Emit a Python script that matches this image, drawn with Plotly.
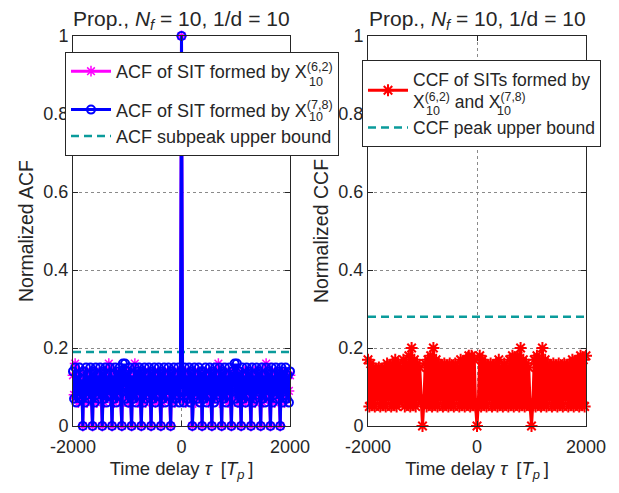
import plotly.graph_objects as go

# ---------------- data ----------------
# ACF lags (units of Tp), step 20
acf_lags = list(range(-2000, 2001, 20))

acf_blue = [
    0.14, 0.07, 0.15, 0.06, 0.13, 0.08, 0.15, 0.07, 0.12, 0, 0.14, 0.06, 0.15, 0.08, 0.13, 0.07, 0.15, 0.09, 0, 0.14,
    0.06, 0.15, 0.08, 0.13, 0.07, 0.15, 0.10, 0, 0.14, 0.07, 0.15, 0.06, 0.13, 0.08, 0.15, 0.09, 0, 0.13, 0.07, 0.15,
    0.06, 0.14, 0.08, 0.15, 0.09, 0, 0.16, 0.10, 0.16, 0.07, 0.14, 0.06, 0.15, 0.09, 0, 0.13, 0.07, 0.15, 0.06, 0.14,
    0.08, 0.15, 0.09, 0, 0.14, 0.06, 0.15, 0.07, 0.13, 0.08, 0.15, 0.10, 0, 0.14, 0.07, 0.15, 0.06, 0.13, 0.08, 0.15,
    0.09, 0, 0.14, 0.07, 0.15, 0.06, 0.13, 0.08, 0.15, 0.10, 0, 0.14, 0.06, 0.15, 0.07, 0.13, 0.08, 0.15, 0.06, 0.12,
    1.0, 0.12, 0.06, 0.15, 0.08, 0.13, 0.07, 0.15, 0.06, 0.14, 0, 0.10, 0.15, 0.08, 0.13, 0.07, 0.15, 0.06, 0.14, 0,
    0.14, 0.07, 0.15, 0.06, 0.13, 0.08, 0.15, 0.09, 0, 0.14, 0.06, 0.15, 0.07, 0.13, 0.08, 0.15, 0.10, 0, 0.14, 0.07,
    0.15, 0.06, 0.13, 0.08, 0.15, 0.09, 0, 0.14, 0.10, 0.16, 0.07, 0.16, 0.06, 0.14, 0.09, 0, 0.15, 0.07, 0.13, 0.06,
    0.15, 0.08, 0.14, 0.09, 0, 0.15, 0.06, 0.13, 0.07, 0.15, 0.08, 0.14, 0.10, 0, 0.15, 0.07, 0.13, 0.06, 0.15, 0.08,
    0.14, 0.09, 0, 0.15, 0.06, 0.13, 0.08, 0.15, 0.07, 0.14, 0.10, 0, 0.15, 0.06, 0.14, 0.08, 0.15, 0.07, 0.13, 0.06,
    0.14,
]

acf_magenta = [
    0.13, 0.08, 0.16, 0.07, 0.14, 0.06, 0.12, 0.08, 0.14, 0, 0.13, 0.07, 0.14, 0.06, 0.12, 0.09, 0.14, 0.07, 0, 0.13,
    0.08, 0.14, 0.06, 0.12, 0.09, 0.14, 0.07, 0, 0.13, 0.06, 0.14, 0.08, 0.12, 0.16, 0.07, 0.14, 0, 0.12, 0.06, 0.14,
    0.07, 0.13, 0.09, 0.14, 0.06, 0, 0.12, 0.08, 0.14, 0.07, 0.13, 0.06, 0.14, 0.09, 0, 0.12, 0.07, 0.16, 0.08, 0.13,
    0.06, 0.14, 0.08, 0, 0.13, 0.07, 0.14, 0.06, 0.12, 0.09, 0.14, 0.07, 0, 0.13, 0.08, 0.14, 0.06, 0.12, 0.07, 0.14,
    0.08, 0, 0.13, 0.06, 0.14, 0.09, 0.12, 0.07, 0.14, 0.08, 0, 0.13, 0.07, 0.14, 0.06, 0.12, 0.09, 0.14, 0.07, 0.13,
    1.0, 0.13, 0.07, 0.14, 0.06, 0.12, 0.09, 0.14, 0.07, 0.13, 0, 0.08, 0.14, 0.06, 0.12, 0.09, 0.14, 0.07, 0.13, 0,
    0.12, 0.08, 0.14, 0.07, 0.13, 0.06, 0.14, 0.08, 0, 0.12, 0.07, 0.14, 0.09, 0.13, 0.16, 0.06, 0.14, 0, 0.13, 0.08,
    0.14, 0.07, 0.12, 0.06, 0.14, 0.08, 0, 0.13, 0.07, 0.14, 0.09, 0.12, 0.06, 0.14, 0.08, 0, 0.13, 0.07, 0.14, 0.06,
    0.12, 0.09, 0.14, 0.07, 0, 0.13, 0.08, 0.14, 0.06, 0.12, 0.07, 0.14, 0.09, 0, 0.13, 0.06, 0.14, 0.08, 0.16, 0.07,
    0.13, 0.08, 0, 0.14, 0.07, 0.12, 0.06, 0.14, 0.09, 0.13, 0.07, 0, 0.14, 0.08, 0.12, 0.06, 0.14, 0.07, 0.13, 0.09,
    0.13,
]

# CCF lags, step 25
ccf_lags = list(range(-2000, 2001, 25))
ccf_red = [
    0.17, 0.05, 0.16, 0.06, 0.15, 0.05, 0.14, 0.07, 0.15, 0.05, 0.14, 0.06, 0.15, 0.05, 0.16, 0.07, 0.15, 0.05, 0.16, 0.06,
    0.17, 0.05, 0.16, 0.06, 0.15, 0.07, 0.17, 0.05, 0.16, 0.06, 0.18, 0.05, 0.20, 0.06, 0.17, 0.05, 0.16, 0.07, 0.15, 0.06,
    0, 0.06, 0.16, 0.05, 0.17, 0.06, 0.18, 0.05, 0.20, 0.06, 0.17, 0.05, 0.16, 0.07, 0.15, 0.05, 0.16, 0.06, 0.15, 0.05,
    0.16, 0.06, 0.15, 0.05, 0.16, 0.07, 0.15, 0.05, 0.17, 0.06, 0.16, 0.05, 0.17, 0.06, 0.18, 0.05, 0.18, 0.06, 0.17, 0.05,
    0, 0.06, 0.18, 0.05, 0.17, 0.06, 0.16, 0.05, 0.15, 0.07, 0.16, 0.05, 0.15, 0.06, 0.16, 0.05, 0.17, 0.06, 0.15, 0.05,
    0.16, 0.06, 0.15, 0.05, 0.17, 0.06, 0.18, 0.05, 0.17, 0.06, 0.18, 0.05, 0.20, 0.06, 0.17, 0.05, 0.16, 0.06, 0.15, 0.05,
    0, 0.06, 0.17, 0.05, 0.18, 0.06, 0.17, 0.05, 0.20, 0.06, 0.17, 0.05, 0.16, 0.07, 0.15, 0.05, 0.16, 0.06, 0.15, 0.05,
    0.16, 0.06, 0.15, 0.05, 0.16, 0.07, 0.15, 0.05, 0.16, 0.06, 0.17, 0.05, 0.16, 0.06, 0.17, 0.05, 0.18, 0.06, 0.17, 0.05,
    0.18,
]

acf_bound = 0.19
ccf_bound = 0.28
x_range = [-2000, 2000]
x_tick_vals = [-2000, 0, 2000]
x_tick_text = ["-2000", "0", "2000"]
y_tick_vals = [0, 0.2, 0.4, 0.6, 0.8, 1]
y_tick_text = ["0", "0.2", "0.4", "0.6", "0.8", "1"]

name_m = "ACF of SIT formed by X<sup>(6,2)</sup>"
name_b = "ACF of SIT formed by X<sup>(7,8)</sup>"
name_ab = "ACF subpeak upper bound"
name_r = "CCF of SITs formed by<br>X<sup>(6,2)</sup> and X<sup>(7,8)</sup>"
name_cb = "CCF peak upper bound"
title_txt = "Prop., <i>N</i><sub><i>f</i></sub> = 10, 1/d = 10"
xlab = "Time delay <i>τ</i>\u2002[<i>T</i><sub><i>p</i></sub>\u2009]"

# ---------------- style ----------------
FONT = "Liberation Sans, Arial, sans-serif"
TXT = "#262626"
TEAL = "#0a9b9b"
W, H = 619, 493
ML, MR, MT, MB = 73, 33, 36, 67
PW, PH = W - ML - MR, H - MT - MB


def px2x(px):
    return (px - ML) / PW


def px2y(py):
    return (H - MB - py) / PH


fig = go.Figure()

# left panel
fig.add_trace(go.Scatter(x=x_range, y=[acf_bound, acf_bound], mode="lines",
                         line=dict(color=TEAL, width=2.5, dash="8px,5px"),
                         name=name_ab, legend="legend", legendrank=3, legendgroup="b",
                         xaxis="x", yaxis="y"))
fig.add_trace(go.Scatter(x=acf_lags, y=acf_magenta, mode="lines+markers",
                         line=dict(color="#FF00FF", width=3),
                         marker=dict(symbol="asterisk-open", size=9, color="#FF00FF",
                                     line=dict(color="#FF00FF", width=1.5)),
                         cliponaxis=False,
                         name=name_m, legend="legend", legendrank=1, legendgroup="a",
                         xaxis="x", yaxis="y"))
fig.add_trace(go.Scatter(x=acf_lags, y=acf_blue, mode="lines+markers",
                         line=dict(color="#0000FF", width=3),
                         marker=dict(symbol="circle-open", size=8, color="#0000FF",
                                     line=dict(color="#0000FF", width=2)),
                         cliponaxis=False,
                         name=name_b, legend="legend", legendrank=2, legendgroup="b",
                         xaxis="x", yaxis="y"))

# right panel
fig.add_trace(go.Scatter(x=ccf_lags, y=ccf_red, mode="lines+markers",
                         line=dict(color="#FF0000", width=3),
                         marker=dict(symbol="asterisk-open", size=10, color="#FF0000",
                                     line=dict(color="#FF0000", width=2)),
                         cliponaxis=False,
                         name=name_r, legend="legend2", legendrank=1,
                         xaxis="x2", yaxis="y2"))
fig.add_trace(go.Scatter(x=x_range, y=[ccf_bound, ccf_bound], mode="lines",
                         line=dict(color=TEAL, width=2.5, dash="8px,5px"),
                         name=name_cb, legend="legend2", legendrank=2,
                         xaxis="x2", yaxis="y2"))

axis_common = dict(showline=True, linecolor=TXT, linewidth=1, mirror="allticks",
                   ticks="inside", ticklen=5, tickcolor=TXT,
                   showgrid=True, gridcolor="#8a8a8a", griddash="dot", gridwidth=1,
                   zeroline=False, automargin=False,
                   tickfont=dict(family=FONT, size=18, color=TXT))

xd1 = [0, px2x(290)]
xd2 = [px2x(368), 1]

fig.update_layout(
    width=W, height=H,
    margin=dict(l=ML, r=MR, t=MT, b=MB),
    paper_bgcolor="white", plot_bgcolor="white",
    font=dict(family=FONT, size=18, color=TXT),
    xaxis=dict(domain=xd1, range=x_range, tickvals=x_tick_vals, ticktext=x_tick_text,
               ticklabelstandoff=4,
               title=dict(text=xlab, font=dict(size=18.5), standoff=6), anchor="y", **axis_common),
    yaxis=dict(domain=[0, 1], range=[0, 1], tickvals=y_tick_vals, ticktext=y_tick_text,
               title=dict(text="Normalized ACF", font=dict(size=19.5), standoff=4), anchor="x", **axis_common),
    xaxis2=dict(domain=xd2, range=x_range, tickvals=x_tick_vals, ticktext=x_tick_text,
                ticklabelstandoff=4,
                title=dict(text=xlab, font=dict(size=18.5), standoff=6), anchor="y2", **axis_common),
    yaxis2=dict(domain=[0, 1], range=[0, 1], tickvals=y_tick_vals, ticktext=y_tick_text,
                title=dict(text="Normalized CCF", font=dict(size=19.5), standoff=4), anchor="x2", **axis_common),
    legend=dict(x=px2x(65), y=px2y(52), xanchor="left", yanchor="top",
                bgcolor="white", bordercolor=TXT, borderwidth=1,
                font=dict(family=FONT, size=18, color=TXT), itemwidth=40,
                tracegroupgap=12),
    legend2=dict(x=px2x(362), y=px2y(60), xanchor="left", yanchor="top",
                 bgcolor="white", bordercolor=TXT, borderwidth=1,
                 font=dict(family=FONT, size=17.5, color=TXT), itemwidth=40),
    showlegend=True,
)

# subplot titles
for xd in (xd1, xd2):
    fig.add_annotation(text=title_txt, x=(xd[0] + xd[1]) / 2, y=1, xref="paper", yref="paper",
                       xanchor="center", yanchor="bottom", yshift=1, showarrow=False,
                       font=dict(family=FONT, size=21, color=TXT))

# stacked subscripts for legend labels
sub_pos = [(307, 82), (307, 117), (424, 111), (495, 111)]
for sx, sy in sub_pos:
    fig.add_annotation(text="10", x=px2x(sx), y=px2y(sy), xref="paper", yref="paper",
                       xanchor="left", yanchor="middle", showarrow=False,
                       font=dict(family=FONT, size=12.5, color=TXT))

fig.write_html("out.html")
